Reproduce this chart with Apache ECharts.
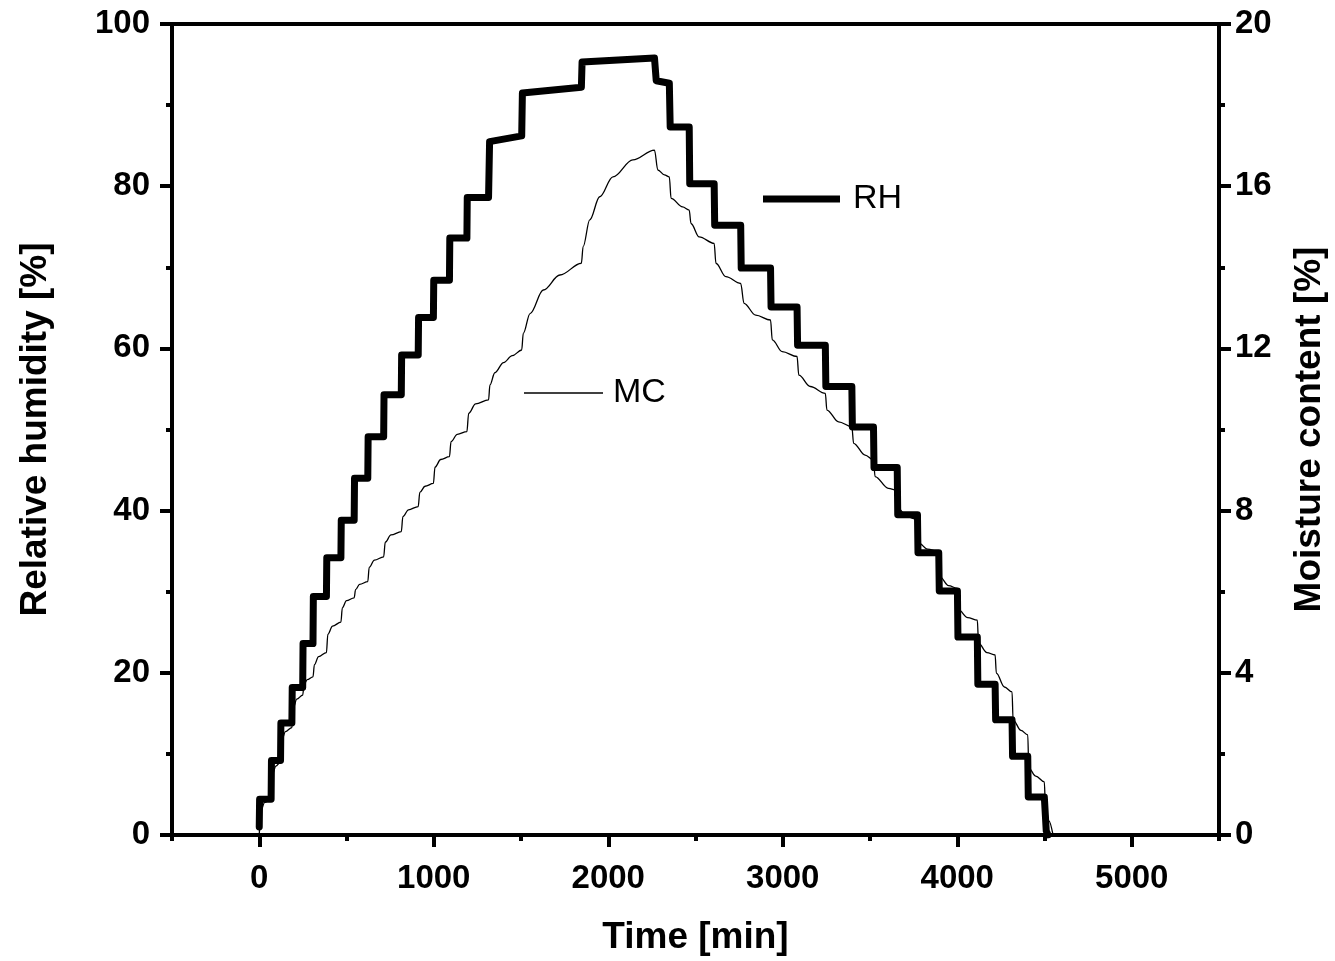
<!DOCTYPE html>
<html>
<head>
<meta charset="utf-8">
<script src="https://cdn.jsdelivr.net/npm/echarts@6/dist/echarts.min.js"></script>
<style>
html,body{margin:0;padding:0;background:#fff;}
#chart{width:1335px;height:961px;}
</style>
</head>
<body>
<div id="chart"></div>
<script>
// Relative humidity (left axis, %) – staircase breakpoints
const rhTime = [0,2,68,70,122,124,187,189,249,251,308,310,385,387,468,470,544,546,622,624,713,715,814,816,911,913,998,1000,1090,1092,1190,1192,1314,1320,1504,1508,1846,1850,2265,2275,2350,2355,2464,2467,2607,2610,2759,2762,2930,2933,3082,3085,3244,3247,3396,3399,3520,3523,3656,3659,3772,3775,3894,3897,4001,4004,4115,4118,4217,4220,4314,4317,4404,4407,4499,4510,4520];
const rhValue = [1.0,4.4,4.4,9.2,9.2,13.8,13.8,18.2,18.2,23.6,23.6,29.4,29.4,34.2,34.2,38.8,38.8,44.0,44.0,49.1,49.1,54.3,54.3,59.2,59.2,63.8,63.8,68.4,68.4,73.6,73.6,78.6,78.6,85.5,86.2,91.5,92.2,95.3,95.8,93.0,92.7,87.3,87.3,80.3,80.3,75.2,75.2,69.9,69.9,65.1,65.1,60.4,60.4,55.3,55.3,50.3,50.3,45.3,45.3,39.5,39.5,34.8,34.8,30.1,30.1,24.4,24.4,18.6,18.6,14.2,14.2,9.7,9.7,4.7,4.7,0.5,0];

// Moisture content (right axis, %)
const mcTime = [0,10,30,68, 76,95,122, 130,150,187, 196,215,249, 257,275,308, 316,340,385, 393,420,468, 476,500,544, 552,575,622, 630,660,713, 722,755,814, 823,855,911, 920,950,998, 1007,1040,1090, 1099,1135,1190, 1200,1240,1314, 1322,1350,1400,1450,1504, 1513,1552,1628,1723,1846, 1856,1894,1951,2027,2141,2265,
  2284,2322,2350, 2360,2426,2464, 2474,2521,2607, 2617,2674,2759, 2778,2845,2930, 2940,2997,3082, 3092,3158,3244, 3253,3320,3396, 3406,3472,3520, 3529,3605,3656, 3664,3710,3772, 3780,3830,3894, 3900,3950,4001, 4008,4060,4115, 4122,4170,4217, 4224,4270,4314, 4320,4365,4404, 4410,4450,4499, 4505,4525,4548];
const mcValue = [0.0,0.6,0.8,0.9, 1.5,1.7,1.8, 2.35,2.55,2.65, 3.15,3.35,3.45, 3.72,3.83,3.9, 4.2,4.4,4.5, 4.95,5.15,5.25, 5.6,5.78,5.85, 6.05,6.18,6.25, 6.6,6.78,6.86, 7.22,7.4,7.48, 7.85,8.02,8.10, 8.45,8.6,8.67, 9.07,9.26,9.33, 9.7,9.88,9.95, 10.4,10.63,10.73, 11.1,11.4,11.65,11.82,11.96, 12.37,12.86,13.44,13.81,14.10, 14.51,15.17,15.74,16.23,16.65,16.89,
  16.40,16.28,16.23, 15.70,15.49,15.41, 15.08,14.75,14.59, 14.10,13.77,13.60, 13.11,12.82,12.70, 12.21,11.92,11.80, 11.34,11.06,10.89, 10.48,10.19,10.07, 9.66,9.37,9.25, 8.84,8.55,8.50, 8.05,7.85,7.78, 7.2,7.05,6.99, 6.37,6.15,6.08, 5.55,5.36,5.30, 4.73,4.5,4.44, 3.99,3.65,3.53, 2.84,2.58,2.47, 1.65,1.45,1.31, 0.75,0.35,0.02];

const xRange = [-500, 5500];
const xMajorTicks = [0, 1000, 2000, 3000, 4000, 5000];
const xMinorStep = 500;
const rhAxis = [0, 100, 20];
const mcAxis = [0, 20, 4];

const rhData = rhTime.map((t, i) => [t, rhValue[i]]);
const mcData = mcTime.map((t, i) => [t, mcValue[i]]);

const FONT = "'Liberation Sans', Arial, Helvetica, sans-serif";
const chart = echarts.init(document.getElementById('chart'));

const lineBlack = { color: '#000', width: 4 };
const labelStyle = { color: '#000', fontSize: 33, fontWeight: 'bold', fontFamily: FONT };
const nameStyle = { color: '#000', fontSize: 37, fontWeight: 'bold', fontFamily: FONT };

chart.setOption({
  animation: false,
  backgroundColor: '#fff',
  grid: { left: 172, right: 116, top: 24, bottom: 126, containLabel: false, outerBoundsMode: 'none',
    show: true, borderColor: '#000', borderWidth: 4, backgroundColor: 'transparent' },
  legend: [
    { data: ['RH'], left: 758, top: 177, icon: 'rect', itemWidth: 77, itemHeight: 7,
      textStyle: { fontSize: 34, color: '#000', fontFamily: FONT, padding: [0, 0, 0, 8] }, selectedMode: false },
    { data: ['MC'], left: 519, top: 371, icon: 'rect', itemWidth: 79, itemHeight: 1.5,
      textStyle: { fontSize: 34, color: '#000', fontFamily: FONT, padding: [0, 0, 0, 5] }, selectedMode: false }
  ],
  xAxis: [
    {
      type: 'value', min: xRange[0], max: xRange[1], interval: 1000,
      name: 'Time [min]', nameLocation: 'middle', nameGap: 84, nameTextStyle: nameStyle,
      axisLine: { show: true, onZero: false, lineStyle: lineBlack },
      axisTick: { show: true, length: 12, lineStyle: lineBlack, customValues: xMajorTicks },
      axisLabel: Object.assign({}, labelStyle, { margin: 27, customValues: xMajorTicks, formatter: v => String(v) }),
      splitLine: { show: false }
    },
    {
      type: 'value', position: 'bottom', min: xRange[0], max: xRange[1], interval: xMinorStep,
      axisLine: { show: false, onZero: false },
      axisTick: { show: true, length: 6, lineStyle: lineBlack },
      axisLabel: { show: false },
      splitLine: { show: false }
    }
  ],
  yAxis: [
    {
      type: 'value', position: 'left', min: rhAxis[0], max: rhAxis[1], interval: rhAxis[2],
      name: 'Relative humidity [%]', nameLocation: 'middle', nameGap: 118, nameRotate: 90, nameTextStyle: nameStyle,
      axisLine: { show: true, onZero: false, lineStyle: lineBlack },
      axisTick: { show: true, length: 12, lineStyle: lineBlack },
      minorTick: { show: true, splitNumber: 2, length: 6, lineStyle: lineBlack },
      axisLabel: Object.assign({}, labelStyle, { margin: 22 }),
      splitLine: { show: false }
    },
    {
      type: 'value', position: 'right', min: mcAxis[0], max: mcAxis[1], interval: mcAxis[2],
      name: 'Moisture content [%]', nameLocation: 'middle', nameGap: 72, nameRotate: 90, nameTextStyle: nameStyle,
      axisLine: { show: true, onZero: false, lineStyle: lineBlack },
      axisTick: { show: true, length: 12, lineStyle: lineBlack },
      minorTick: { show: true, splitNumber: 2, length: 6, lineStyle: lineBlack },
      axisLabel: Object.assign({}, labelStyle, { margin: 16 }),
      splitLine: { show: false }
    }
  ],
  series: [
    { name: 'RH', type: 'line', xAxisIndex: 0, yAxisIndex: 0, data: rhData, showSymbol: false, symbol: 'none',
      lineStyle: { color: '#000', width: 7, join: 'round', cap: 'round' }, itemStyle: { color: '#000' }, z: 3 },
    { name: 'MC', type: 'line', xAxisIndex: 0, yAxisIndex: 1, data: mcData, showSymbol: false, symbol: 'none',
      smooth: 0.35, smoothMonotone: 'x',
      lineStyle: { color: '#000', width: 1.3 }, itemStyle: { color: '#000' }, z: 2 }
  ]
});
</script>
</body>
</html>
